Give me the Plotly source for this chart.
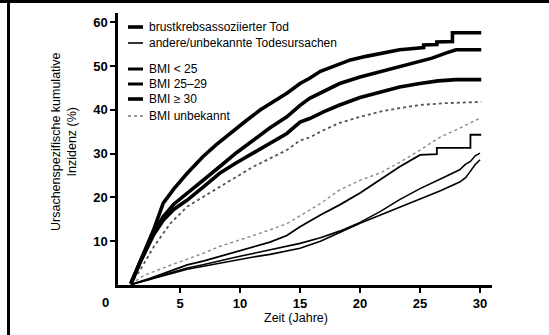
import plotly.graph_objects as go

# ---------------- data ----------------
# breast-cancer-associated death (thick lines)
bc_bmi30_x = [0.9, 1.7, 2.8, 3.6, 4.5, 5.6, 6.9, 8.0, 9.2, 10.5, 11.7, 13.0, 13.9, 15.0, 15.8, 16.7, 17.5, 18.3, 19.2, 20.5, 21.7, 23.3, 24.0, 25.3, 25.3, 26.4, 26.4, 27.7, 27.7, 30.1]
bc_bmi30_y = [0.3, 5.7, 12.6, 18.7, 22.0, 25.5, 29.3, 32.0, 34.7, 37.5, 40.0, 42.3, 43.8, 46.0, 47.2, 48.8, 49.6, 50.5, 51.4, 52.2, 52.9, 53.7, 53.9, 54.2, 54.8, 54.9, 55.5, 55.6, 57.6, 57.6]

bc_bmi2529_x = [0.9, 1.7, 2.8, 3.6, 4.5, 5.6, 7.0, 8.3, 9.7, 11.1, 12.5, 13.9, 15.0, 15.8, 17.0, 18.3, 20.0, 21.7, 23.3, 25.0, 26.0, 27.2, 28.0, 30.1]
bc_bmi2529_y = [0.3, 5.5, 12.0, 15.6, 18.5, 20.9, 24.0, 27.0, 30.2, 33.1, 35.9, 38.4, 41.0, 42.6, 44.3, 46.0, 47.5, 48.7, 49.9, 51.0, 51.8, 53.0, 53.7, 53.7]

bc_bmi25_x = [0.9, 1.7, 2.8, 3.6, 4.5, 5.6, 7.0, 8.3, 9.7, 11.1, 12.5, 13.9, 15.0, 15.8, 17.0, 18.3, 20.0, 21.7, 23.3, 25.0, 26.5, 28.0, 30.1]
bc_bmi25_y = [0.3, 5.3, 11.5, 14.8, 17.3, 19.4, 22.5, 25.5, 27.9, 30.1, 32.4, 34.6, 37.2, 38.0, 39.6, 41.1, 42.8, 44.1, 45.2, 46.0, 46.6, 46.9, 46.9]

bc_unk_x = [0.9, 1.7, 2.8, 4.2, 5.6, 7.0, 8.3, 9.7, 11.1, 12.5, 13.9, 15.0, 15.8, 17.0, 18.3, 20.0, 21.7, 23.3, 25.0, 27.0, 30.1]
bc_unk_y = [0.2, 3.5, 8.7, 14.1, 17.9, 20.3, 22.4, 24.7, 27.0, 28.9, 30.8, 33.0, 33.7, 35.4, 37.0, 38.4, 39.6, 40.4, 41.1, 41.5, 41.8]

# other / unknown causes of death (thin lines)
oc_unk_x = [0.9, 2.0, 3.5, 5.6, 7.0, 8.3, 9.7, 11.1, 12.5, 13.9, 15.0, 16.7, 18.3, 20.0, 21.7, 23.3, 25.0, 26.5, 28.0, 29.0, 30.0]
oc_unk_y = [0.2, 2.2, 3.8, 5.8, 7.3, 8.8, 10.0, 11.3, 12.6, 14.0, 15.8, 18.6, 21.7, 23.9, 25.6, 28.0, 30.8, 33.5, 35.4, 36.8, 38.1]

oc_bmi30_x = [0.9, 2.5, 4.0, 5.6, 7.0, 8.3, 9.7, 11.1, 12.5, 13.9, 15.0, 16.7, 18.3, 20.0, 21.7, 23.3, 25.0, 26.4, 26.4, 29.2, 29.2, 30.1]
oc_bmi30_y = [0.1, 1.5, 3.0, 4.6, 5.5, 6.5, 7.6, 8.7, 9.8, 11.3, 13.3, 16.0, 18.3, 21.0, 24.0, 27.0, 29.7, 29.9, 31.3, 31.3, 34.3, 34.3]

oc_bmi2529_x = [0.9, 2.5, 4.0, 5.6, 7.0, 8.3, 9.7, 11.1, 12.5, 13.9, 15.0, 16.7, 18.3, 20.0, 21.7, 23.3, 25.0, 26.7, 27.5, 28.3, 28.8, 29.2, 29.6, 30.0]
oc_bmi2529_y = [0.1, 1.3, 2.6, 3.9, 4.7, 5.6, 6.4, 7.2, 8.0, 8.8, 9.5, 10.8, 12.3, 14.3, 16.8, 19.5, 22.0, 24.2, 25.2, 26.3, 27.6, 28.2, 29.5, 30.1]

oc_bmi25_x = [0.9, 2.5, 4.0, 5.6, 7.0, 8.3, 9.7, 11.1, 12.5, 13.9, 15.0, 16.7, 18.3, 20.0, 21.7, 23.3, 25.0, 26.7, 28.3, 28.8, 29.2, 29.6, 30.0]
oc_bmi25_y = [0.1, 1.2, 2.4, 3.6, 4.3, 5.1, 5.8, 6.4, 7.0, 7.7, 8.4, 10.0, 12.0, 14.1, 16.0, 17.8, 19.6, 21.5, 23.5, 24.5, 26.0, 27.5, 28.6]

x_ticks = [5, 10, 15, 20, 25, 30]
y_ticks = [10, 20, 30, 40, 50, 60]

legend_labels = ["brustkrebsassoziierter Tod", "andere/unbekannte Todesursachen",
                 "BMI < 25", "BMI 25–29", "BMI ≥ 30", "BMI unbekannt"]

# ---------------- layout geometry ----------------
W, H = 549, 335
L, R, T, B = 118, 57, 13, 50
PW, PH = W - L - R, H - T - B


def px(xp):
    return (xp - L) / PW


def py(yp):
    return (H - B - yp) / PH


FONT = "Liberation Sans, Arial, sans-serif"

fig = go.Figure()


def add(x, y, width, color="black", dash="solid"):
    fig.add_trace(go.Scatter(x=x, y=y, mode="lines", showlegend=False, hoverinfo="skip",
                             line=dict(color=color, width=width, dash=dash)))


# other causes (thin)
add(oc_unk_x, oc_unk_y, 1.4, "#8a8a8a", "dot")
add(oc_bmi25_x, oc_bmi25_y, 1.6)
add(oc_bmi2529_x, oc_bmi2529_y, 1.6)
add(oc_bmi30_x, oc_bmi30_y, 1.8)
# breast cancer (thick)
add(bc_unk_x, bc_unk_y, 1.8, "#555555", "dot")
add(bc_bmi25_x, bc_bmi25_y, 3.6)
add(bc_bmi2529_x, bc_bmi2529_y, 3.6)
add(bc_bmi30_x, bc_bmi30_y, 3.6)

shapes = []
annotations = []

# manual legend
leg_y = [27, 43, 69, 84, 99, 116]
leg_style = [(3.6, "black", "solid"), (1.6, "black", "solid"), (3.0, "black", "solid"),
             (3.0, "black", "solid"), (3.6, "black", "solid"), (1.6, "#777777", "dot")]
for lab, yy, (w, c, d) in zip(legend_labels, leg_y, leg_style):
    shapes.append(dict(type="line", xref="paper", yref="paper", x0=px(128), x1=px(143),
                       y0=py(yy), y1=py(yy), line=dict(color=c, width=w, dash=d)))
    annotations.append(dict(xref="paper", yref="paper", x=px(147), y=py(yy), text=lab,
                            showarrow=False, xanchor="left", yanchor="middle",
                            font=dict(family=FONT, size=12, color="black")))

# outer frame (left and top border of the scanned figure)
shapes.append(dict(type="rect", xref="paper", yref="paper", x0=px(7), x1=px(10),
                   y0=py(-2), y1=py(H + 2), line=dict(width=0), fillcolor="black"))
shapes.append(dict(type="rect", xref="paper", yref="paper", x0=px(0), x1=px(W),
                   y0=py(-2), y1=py(3), line=dict(width=0), fillcolor="black"))

# axis titles and the separate "0" label
annotations.append(dict(xref="paper", yref="paper", x=px(64), y=py(142), textangle=-90,
                        text="Ursachenspezifische kumulative<br>Inzidenz (%)", showarrow=False,
                        xanchor="center", yanchor="middle",
                        font=dict(family=FONT, size=12.5, color="black")))
annotations.append(dict(xref="paper", yref="paper", x=px(296), y=py(318), text="Zeit (Jahre)",
                        showarrow=False, xanchor="center", yanchor="middle",
                        font=dict(family=FONT, size=12.5, color="black")))
annotations.append(dict(xref="paper", yref="paper", x=px(105), y=py(302), text="0",
                        showarrow=False, xanchor="center", yanchor="middle",
                        font=dict(family=FONT, size=13, color="black", weight="bold")))

x0 = -0.17
fig.update_layout(
    width=W, height=H,
    margin=dict(l=L, r=R, t=T, b=B, pad=0),
    paper_bgcolor="white", plot_bgcolor="white",
    showlegend=False,
    shapes=shapes, annotations=annotations,
    xaxis=dict(range=[x0, x0 + PW / 12.0], tickvals=x_ticks, ticks="outside", ticklen=5,
               tickwidth=1.5, tickcolor="black", showline=True, linewidth=2.5, linecolor="black",
               showgrid=False, zeroline=False,
               tickfont=dict(family=FONT, size=13, color="black", weight="bold")),
    yaxis=dict(range=[0, PH / 4.38], tickvals=y_ticks, ticks="outside", ticklen=5,
               tickwidth=1.5, tickcolor="black", showline=True, linewidth=2.5, linecolor="black",
               showgrid=False, zeroline=False,
               tickfont=dict(family=FONT, size=13, color="black", weight="bold")),
)

fig.write_html("out.html", config={"displayModeBar": False},
               post_script="document.body.style.margin='0';document.body.style.overflow='hidden';")
